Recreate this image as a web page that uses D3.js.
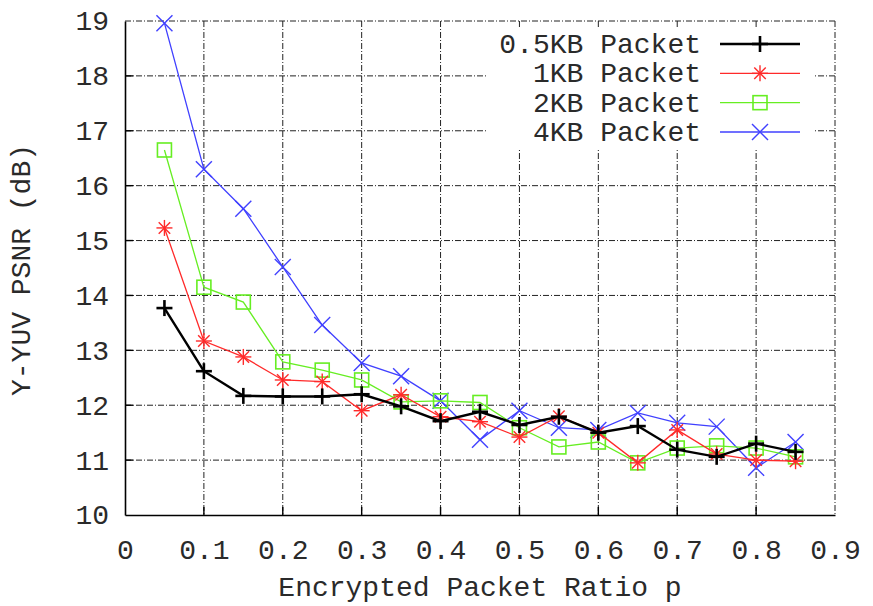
<!DOCTYPE html>
<html>
<head>
<meta charset="utf-8">
<script src="https://cdn.jsdelivr.net/npm/d3@7"></script>
<style>
  body { margin: 0; background: #fff; }
  text { font-family: "Courier New", "Liberation Mono", monospace; fill: #2a2a2a; }
</style>
</head>
<body>
<script>
// data
const ratios = [0.05, 0.1, 0.15, 0.2, 0.25, 0.3, 0.35, 0.4, 0.45, 0.5, 0.55, 0.6, 0.65, 0.7, 0.75, 0.8, 0.85];
const psnr05 = [13.77, 12.62, 12.17, 12.16, 12.16, 12.2, 11.98, 11.71, 11.88, 11.64, 11.79, 11.5, 11.62, 11.19, 11.06, 11.3, 11.15];
const psnr1 = [15.23, 13.17, 12.88, 12.46, 12.43, 11.9, 12.19, 11.79, 11.7, 11.42, 11.8, 11.5, 10.95, 11.55, 11.11, 11.0, 10.98];
const psnr2 = [16.65, 14.15, 13.88, 12.79, 12.64, 12.46, 12.06, 12.08, 12.05, 11.59, 11.24, 11.33, 10.95, 11.22, 11.26, 11.22, 11.06];
const psnr4 = [18.96, 16.3, 15.58, 14.52, 13.46, 12.77, 12.53, 12.08, 11.37, 11.9, 11.59, 11.55, 11.86, 11.68, 11.61, 10.86, 11.33];
const seriesNames = ['0.5KB Packet', '1KB Packet', '2KB Packet', '4KB Packet'];
const xTicks = [0, 0.1, 0.2, 0.3, 0.4, 0.5, 0.6, 0.7, 0.8, 0.9];
const yTicks = [10, 11, 12, 13, 14, 15, 16, 17, 18, 19];

const width = 873, height = 606;
const plotLeft = 125, plotRight = 835, plotTop = 21, plotBottom = 515;
const font = '"Courier New", "Liberation Mono", monospace';

const svg = d3.select('body').append('svg')
  .attr('width', width)
  .attr('height', height);

const x = d3.scaleLinear().domain([0, 0.9]).range([plotLeft, plotRight]);
const y = d3.scaleLinear().domain([10, 19]).range([plotBottom, plotTop]);

/* grid (dash-dot, gnuplot style) */
const grid = svg.append('g').attr('class', 'grid')
  .attr('stroke', '#222')
  .attr('stroke-width', 1)
  .attr('stroke-dasharray', '6,2,1,2');

grid.selectAll('line.v')
  .data(xTicks.slice(1))
  .enter().append('line')
  .attr('class', 'v')
  .attr('x1', d => x(d)).attr('x2', d => x(d))
  .attr('y1', plotTop).attr('y2', plotBottom);

grid.selectAll('line.h')
  .data(yTicks.slice(1))
  .enter().append('line')
  .attr('class', 'h')
  .attr('x1', plotLeft).attr('x2', plotRight)
  .attr('y1', d => y(d)).attr('y2', d => y(d));

/* axes: solid left and bottom border, labels only */
const xAxis = d3.axisBottom(x).tickValues(xTicks).tickSize(0).tickPadding(24)
  .tickFormat(d => d === 0 ? '0' : d3.format('.1f')(d));
svg.append('g')
  .attr('transform', `translate(0,${plotBottom})`)
  .call(xAxis)
  .call(g => g.select('.domain').attr('stroke', '#000').attr('stroke-width', 1.6))
  .selectAll('text')
  .attr('font-size', 28)
  .attr('font-family', font)
  .attr('fill', '#2a2a2a');

const yAxis = d3.axisLeft(y).tickValues(yTicks).tickSize(0).tickPadding(16);
svg.append('g')
  .attr('transform', `translate(${plotLeft},0)`)
  .call(yAxis)
  .call(g => g.select('.domain').attr('stroke', '#000').attr('stroke-width', 1.6))
  .selectAll('text')
  .attr('font-size', 28)
  .attr('font-family', font)
  .attr('fill', '#2a2a2a');

/* small inward ticks on the solid borders */
svg.append('g').selectAll('line')
  .data(xTicks.slice(1, -1))
  .enter().append('line')
  .attr('x1', d => x(d)).attr('x2', d => x(d))
  .attr('y1', plotBottom).attr('y2', plotBottom - 8)
  .attr('stroke', '#000').attr('stroke-width', 1.4);
svg.append('g').selectAll('line')
  .data(yTicks.slice(1, -1))
  .enter().append('line')
  .attr('x1', plotLeft).attr('x2', plotLeft + 8)
  .attr('y1', d => y(d)).attr('y2', d => y(d))
  .attr('stroke', '#000').attr('stroke-width', 1.4);

/* axis titles */
svg.append('text')
  .attr('x', (plotLeft + plotRight) / 2)
  .attr('y', 596)
  .attr('text-anchor', 'middle')
  .attr('font-size', 28)
  .text('Encrypted Packet Ratio p');

svg.append('text')
  .attr('transform', `translate(30,${(plotTop + plotBottom) / 2 + 2}) rotate(-90)`)
  .attr('text-anchor', 'middle')
  .attr('font-size', 28)
  .text('Y-YUV PSNR (dB)');

/* markers */
function marker(g, type, color, size) {
  const s = size;
  if (type === 'plus' || type === 'star') {
    g.append('line').attr('x1', -s).attr('x2', s).attr('y1', 0).attr('y2', 0);
    g.append('line').attr('x1', 0).attr('x2', 0).attr('y1', -s).attr('y2', s);
  }
  if (type === 'cross' || type === 'star') {
    const c = type === 'star' ? s * 0.72 : s;
    g.append('line').attr('x1', -c).attr('x2', c).attr('y1', -c).attr('y2', c);
    g.append('line').attr('x1', -c).attr('x2', c).attr('y1', c).attr('y2', -c);
  }
  if (type === 'square') {
    g.append('rect').attr('x', -s).attr('y', -s).attr('width', 2 * s).attr('height', 2 * s)
      .attr('fill', 'none');
  }
  g.attr('stroke', color);
}

const series = [
  { name: seriesNames[0], values: psnr05, color: '#000000', width: 2.4, mark: 'plus', size: 8, mw: 2.6 },
  { name: seriesNames[1], values: psnr1, color: '#ff2a2a', width: 1.3, mark: 'star', size: 8, mw: 1.4 },
  { name: seriesNames[2], values: psnr2, color: '#66ee22', width: 1.3, mark: 'square', size: 7, mw: 1.6 },
  { name: seriesNames[3], values: psnr4, color: '#4040ff', width: 1.3, mark: 'cross', size: 8, mw: 1.4 }
];

const line = d3.line()
  .x((d, i) => x(ratios[i]))
  .y(d => y(d));

// draw in reverse so black sits on top
series.slice().reverse().forEach(s => {
  const g = svg.append('g').attr('class', 'series');
  g.append('path')
    .datum(s.values)
    .attr('d', line)
    .attr('fill', 'none')
    .attr('stroke', s.color)
    .attr('stroke-width', s.width);
  g.selectAll('g.pt')
    .data(s.values)
    .enter().append('g')
    .attr('class', 'pt')
    .attr('transform', (d, i) => `translate(${x(ratios[i])},${y(d)})`)
    .attr('stroke-width', s.mw)
    .each(function () { marker(d3.select(this), s.mark, s.color, s.size); });
});

/* legend */
const legend = svg.append('g').attr('class', 'legend');
legend.append('rect')
  .attr('x', 487).attr('y', 28)
  .attr('width', 328).attr('height', 120)
  .attr('fill', '#fff');

const rowY = d3.scalePoint().domain(seriesNames).range([44, 132]);
series.forEach(s => {
  const ly = rowY(s.name);
  legend.append('text')
    .attr('x', 701).attr('y', ly + 9)
    .attr('text-anchor', 'end')
    .attr('font-size', 28)
    .text(s.name);
  legend.append('line')
    .attr('x1', 720).attr('x2', 800)
    .attr('y1', ly).attr('y2', ly)
    .attr('stroke', s.color)
    .attr('stroke-width', s.width);
  const m = legend.append('g')
    .attr('transform', `translate(760,${ly})`)
    .attr('stroke-width', s.mw);
  marker(m, s.mark, s.color, s.size);
});
</script>
</body>
</html>
